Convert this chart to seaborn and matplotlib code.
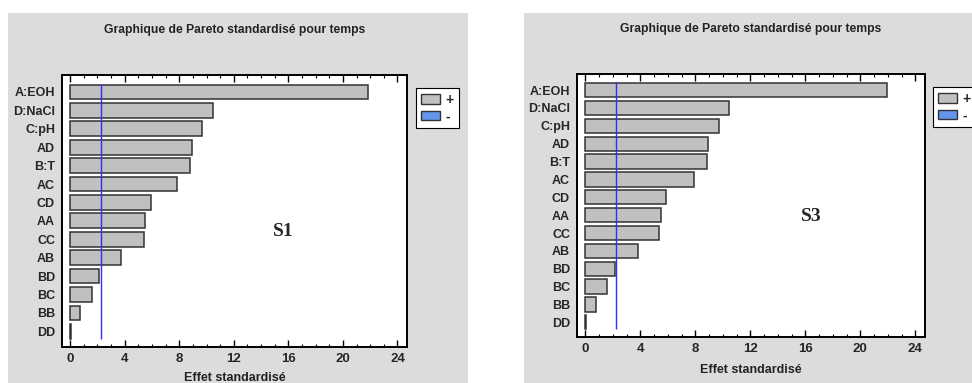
import matplotlib
matplotlib.use("Agg")
import matplotlib.pyplot as plt
from matplotlib.patches import Rectangle, Patch
import pandas as pd
import seaborn as sns

# -----------------------------
# Data
# -----------------------------
effects = ["A:EOH", "D:NaCl", "C:pH", "AD", "B:T", "AC", "CD",
           "AA", "CC", "AB", "BD", "BC", "BB", "DD"]
s1_values = [21.85, 10.48, 9.68, 8.95, 8.80, 7.85, 5.89,
             5.50, 5.43, 3.74, 2.13, 1.59, 0.71, 0.07]
s3_values = [21.94, 10.47, 9.75, 8.92, 8.85, 7.93, 5.89,
             5.48, 5.36, 3.81, 2.14, 1.60, 0.78, 0.08]
t_crit = 2.25
x_ticks = [0, 4, 8, 12, 16, 20, 24]
title = "Graphique de Pareto standardisé pour temps"
xlabel = "Effet standardisé"

sns.set_style("white")
plt.rcParams["font.family"] = ["Liberation Sans", "DejaVu Sans"]

BAR_GREY = "#c0c0c0"
EDGE = "#333333"
PANEL = "#dcdcdc"
LINE_BLUE = "#3030ee"
NEG_BLUE = "#6495ed"

fig = plt.figure(figsize=(9.72, 3.83), dpi=100)
W, H = 972, 383


def px(x0, y0, x1, y1):
    # pixel box (top-left origin) -> figure fraction rect
    return [x0 / W, 1 - y1 / H, (x1 - x0) / W, (y1 - y0) / H]


# grey panels behind each chart
for (x0, y0, x1, y1) in [(8, 13, 468, 383), (524, 13, 980, 383)]:
    r = px(x0, y0, x1, y1)
    fig.patches.append(Rectangle((r[0], r[1]), r[2], r[3], transform=fig.transFigure,
                                 facecolor=PANEL, edgecolor="none", zorder=-10))

panels = [
    dict(values=s1_values, box=(62, 75, 407, 347), ylim=(13.85, -0.92),
         tag="S1", tag_pos=(15.6, 7.6), title_y=30, xlabel_y=378,
         legend_box=(416, 88)),
    dict(values=s3_values, box=(577, 74, 925, 337), ylim=(13.82, -0.9),
         tag="S3", tag_pos=(16.4, 7.1), title_y=29, xlabel_y=370,
         legend_box=(933, 87)),
]

for p in panels:
    ax = fig.add_axes(px(*p["box"]))
    ax.set_zorder(1)
    df = pd.DataFrame({"effect": effects, "value": p["values"]})
    sns.barplot(data=df, x="value", y="effect", orient="h", color=BAR_GREY,
                edgecolor=EDGE, linewidth=1.1, width=0.8, saturation=1,
                ax=ax, zorder=2)
    for bar in ax.patches:
        bar.set_facecolor(BAR_GREY)
    ax.vlines(t_crit, -0.45, 13.4, color=LINE_BLUE, linewidth=1.0, zorder=3)

    ax.set_xlim(-0.6, 24.7)
    ax.set_ylim(*p["ylim"])
    ax.set_xticks(x_ticks)
    ax.set_xticks(range(0, 25), minor=True)
    ax.tick_params(axis="x", which="major", direction="in", length=5, width=1,
                   top=True, bottom=True, labelsize=9.5, pad=4, color="black")
    ax.tick_params(axis="x", which="minor", direction="in", length=2.5, width=0.8,
                   top=True, bottom=True, color="black")
    ax.tick_params(axis="y", length=0, labelsize=9, pad=5)
    for lab in ax.get_xticklabels() + ax.get_yticklabels():
        lab.set_fontweight("bold")
    ax.set_xlabel("")
    ax.set_ylabel("")
    for s in ax.spines.values():
        s.set_visible(True)
        s.set_color("black")
        s.set_linewidth(1.4)

    ax.text(p["tag_pos"][0], p["tag_pos"][1], p["tag"], fontsize=14,
            fontweight="bold", family="Liberation Serif", ha="center", va="center")

    cx = (p["box"][0] + p["box"][2]) / 2 / W
    fig.text(cx, 1 - p["title_y"] / H, title, ha="center", va="center",
             fontsize=8.7, fontweight="bold", color="#222222")
    fig.text(cx, 1 - p["xlabel_y"] / H, xlabel, ha="center", va="center",
             fontsize=9, fontweight="bold", color="#222222")

    lx, ly = p["legend_box"]
    handles = [Patch(facecolor=BAR_GREY, edgecolor=EDGE, label="+"),
               Patch(facecolor=NEG_BLUE, edgecolor=EDGE, label="-")]
    leg = fig.legend(handles=handles, loc="upper left",
                     bbox_to_anchor=(lx / W, 1 - ly / H), frameon=True,
                     fancybox=False, edgecolor="black", facecolor="white",
                     framealpha=1, borderaxespad=0, handlelength=1.4,
                     handleheight=0.65, handletextpad=0.4, labelspacing=0.2,
                     borderpad=0.35, prop={"weight": "bold", "size": 10})
    leg.get_frame().set_linewidth(0.8)

fig.savefig("out.png", dpi=100, facecolor="white")
